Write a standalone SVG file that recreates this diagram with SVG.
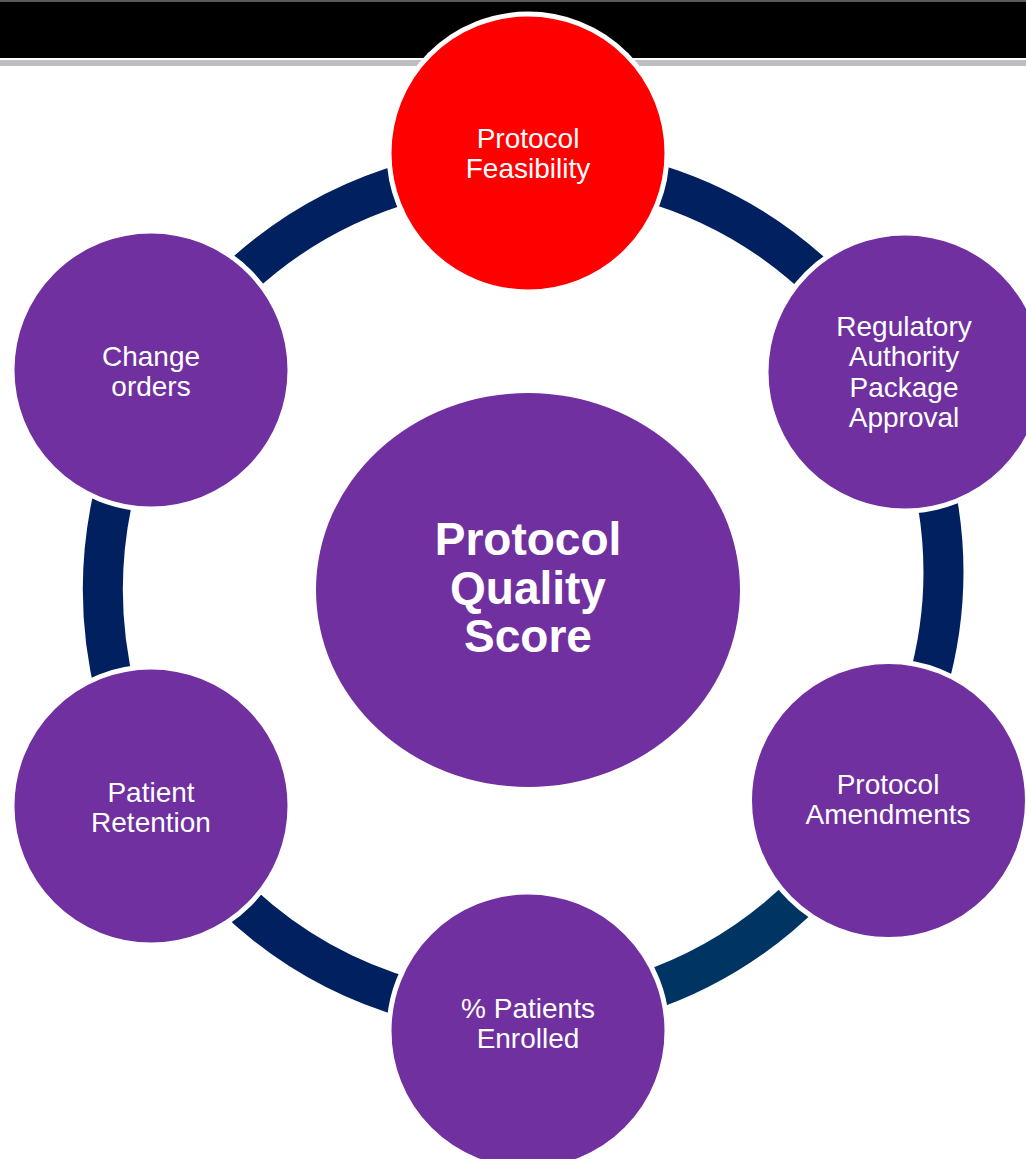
<svg xmlns="http://www.w3.org/2000/svg" width="1026" height="1159" viewBox="0 0 1026 1159">
  <style>
    .ring { fill: none; stroke: #002060; stroke-width: 40; stroke-linecap: butt; }
    .node { fill: #7030A0; stroke: #FFFFFF; stroke-width: 5; }
    .lbl { font-family: "Liberation Sans", Arial, sans-serif; font-size: 28px; fill: #FFFFFF; text-anchor: middle; }
    .big { font-family: "Liberation Sans", Arial, sans-serif; font-size: 46px; font-weight: bold; fill: #FFFFFF; text-anchor: middle; }
  </style>
  <rect x="0" y="0" width="1026" height="1159" fill="#FFFFFF"/>
  <g id="header">
    <rect x="0" y="0" width="1026" height="2" fill="#5A5A5A"/>
    <rect x="0" y="2" width="1026" height="56" fill="#000000"/>
    <rect x="0" y="60" width="1026" height="6" fill="#BDBDC2"/>
  </g>
  <g id="connectors">
    <path class="ring" d="M 232.2 284.9 A 420 420 0 0 1 411.3 181.7"/>
    <path class="ring" d="M 645 180.9 A 420 420 0 0 1 824.2 284.5"/>
    <path class="ring" d="M 934.7 487.6 A 415 415 0 0 1 927.1 686.6"/>
    <path class="ring" style="stroke:#003462" d="M 808.1 889.4 A 420 420 0 0 1 642.7 992.7"/>
    <path class="ring" d="M 411.5 999 A 420 420 0 0 1 231.4 894.5"/>
    <path class="ring" d="M 115.6 693.1 A 432 432 0 0 1 115.6 485.9"/>
  </g>
  <g id="center">
    <ellipse cx="528" cy="590" rx="212" ry="197" fill="#7030A0"/>
    <text class="big" x="528" y="555">Protocol</text>
    <text class="big" x="528" y="603.5">Quality</text>
    <text class="big" x="528" y="652">Score</text>
  </g>
  <g id="protocol-feasibility">
    <circle class="node" cx="528" cy="153" r="139" style="fill:#FF0000"/>
    <text class="lbl" x="528" y="148">Protocol</text>
    <text class="lbl" x="528" y="178">Feasibility</text>
  </g>
  <g id="regulatory">
    <circle class="node" cx="905" cy="372" r="139"/>
    <text class="lbl" x="904" y="336">Regulatory</text>
    <text class="lbl" x="904" y="366">Authority</text>
    <text class="lbl" x="904" y="396.5">Package</text>
    <text class="lbl" x="904" y="426.5">Approval</text>
  </g>
  <g id="amendments">
    <circle class="node" cx="888.5" cy="800.5" r="139"/>
    <text class="lbl" x="888" y="794">Protocol</text>
    <text class="lbl" x="888" y="824">Amendments</text>
  </g>
  <g id="enrolled">
    <circle class="node" cx="528" cy="1031" r="139"/>
    <text class="lbl" x="528" y="1018">% Patients</text>
    <text class="lbl" x="528" y="1048">Enrolled</text>
  </g>
  <g id="retention">
    <circle class="node" cx="151" cy="806" r="139"/>
    <text class="lbl" x="151" y="802">Patient</text>
    <text class="lbl" x="151" y="832">Retention</text>
  </g>
  <g id="change-orders">
    <circle class="node" cx="151" cy="370" r="139"/>
    <text class="lbl" x="151" y="366">Change</text>
    <text class="lbl" x="151" y="396">orders</text>
  </g>
</svg>
